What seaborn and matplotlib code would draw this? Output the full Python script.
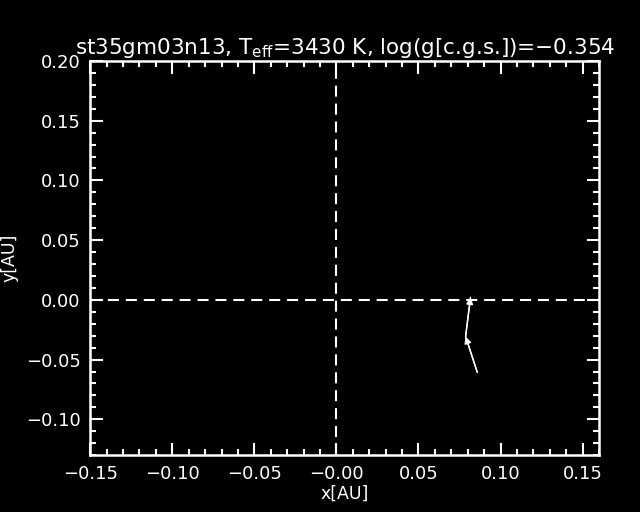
import numpy as np
import pandas as pd
import seaborn as sns
import matplotlib
matplotlib.use("Agg")
import matplotlib.pyplot as plt
from matplotlib.ticker import MultipleLocator, FixedLocator, FixedFormatter

# photocentre track
x_au = [0.0858, 0.0787, 0.0817]
y_au = [-0.0606, -0.0307, 0.0022]

x_ticks = [-0.15, -0.10, -0.05, 0.0, 0.05, 0.10, 0.15]
x_labels = ["\u22120.15", "\u22120.10", "\u22120.05", "\u22120.00", "0.05", "0.10", "0.15"]
y_ticks = [-0.10, -0.05, 0.0, 0.05, 0.10, 0.15, 0.20]
y_labels = ["\u22120.10", "\u22120.05", "0.00", "0.05", "0.10", "0.15", "0.20"]

title = r"st35gm03n13, T$_{\rm eff}$=3430 K, log(g[c.g.s.])=$-$0.354"

sns.set_style("dark", {"axes.facecolor": "black", "figure.facecolor": "black",
                       "axes.edgecolor": "white", "text.color": "white",
                       "xtick.color": "white", "ytick.color": "white",
                       "axes.labelcolor": "white"})
plt.rcParams['font.family'] = ['DejaVu Sans']

fig = plt.figure(figsize=(6.4, 5.12), dpi=100)
ax = fig.add_axes([0.141, 0.111, 0.795, 0.770])

df = pd.DataFrame({"x": x_au, "y": y_au})
sns.lineplot(data=df, x="x", y="y", sort=False, color="white", lw=1, ax=ax)
for i in range(1, len(x_au)):
    ax.annotate("", xy=(x_au[i], y_au[i]), xytext=(x_au[i - 1], y_au[i - 1]),
                arrowprops=dict(arrowstyle="-|>", color="white", lw=1,
                                mutation_scale=10, shrinkA=0, shrinkB=0))

ax.axvline(0, color="white", ls=(0, (5.3, 3.3)), lw=1.5)
ax.axhline(0, color="white", ls=(0, (5.3, 3.3)), lw=1.5)

ax.set_xlim(-0.15, 0.16)
ax.set_ylim(-0.13, 0.20)
ax.xaxis.set_major_locator(FixedLocator(x_ticks))
ax.xaxis.set_major_formatter(FixedFormatter(x_labels))
ax.yaxis.set_major_locator(FixedLocator(y_ticks))
ax.yaxis.set_major_formatter(FixedFormatter(y_labels))
ax.xaxis.set_minor_locator(MultipleLocator(0.01))
ax.yaxis.set_minor_locator(MultipleLocator(0.01))
ax.tick_params(which="both", direction="in", top=True, right=True,
               bottom=True, left=True, colors="white", labelsize=13)
ax.tick_params(which="major", length=9, width=1.5, pad=7)
ax.tick_params(which="minor", length=4.5, width=1.5)
for s in ax.spines.values():
    s.set_color("white")
    s.set_linewidth(1.8)
ax.grid(False)

ax.set_xlabel("x[AU]", fontsize=12.5, labelpad=1)
ax.set_ylabel("y[AU]", fontsize=12.5, labelpad=5)
ax.set_title(title, fontsize=15.5, color="white", pad=5)

fig.savefig("out.png", dpi=100, facecolor="black")
